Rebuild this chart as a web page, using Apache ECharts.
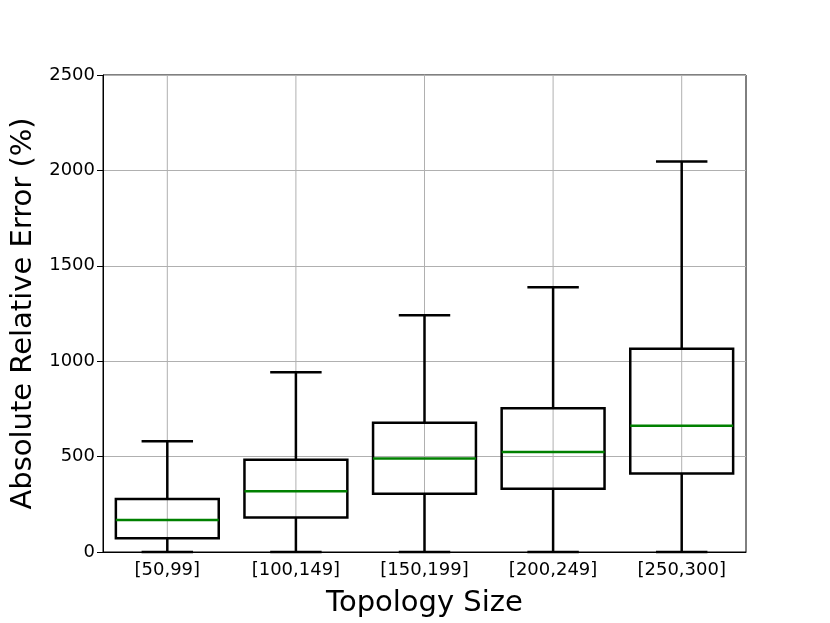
<!DOCTYPE html>
<html>
<head>
<meta charset="utf-8">
<script src="https://cdn.jsdelivr.net/npm/echarts@6/dist/echarts.min.js"></script>
<style>
  html, body { margin: 0; padding: 0; background: #fff; }
  #main { width: 830px; height: 623px; }
</style>
</head>
<body>
<div id="main"></div>
<script>
// box statistics, one entry per topology size bucket
const categories = ['[50,99]', '[100,149]', '[150,199]', '[200,249]', '[250,300]'];
const lowWhisker = [0, 0, 0, 0, 0];
const q1 = [72, 181, 305, 331, 412];
const median = [168, 318, 490, 524, 662];
const q3 = [278, 483, 678, 753, 1065];
const highWhisker = [580, 942, 1241, 1388, 2046];
const yTicks = [0, 500, 1000, 1500, 2000, 2500];

const font = 'DejaVu Sans';
const yMax = yTicks[yTicks.length - 1];

function renderItem(params, api) {
  const idx = api.value(0);
  const band = api.size([1, 0])[0];
  const boxHalf = band * 0.4;
  const capHalf = band * 0.2;
  const pt = k => api.coord([idx, api.value(k)]);
  const lo = pt(1), b1 = pt(2), md = pt(3), b3 = pt(4), hi = pt(5);
  const x = lo[0];
  const top = api.coord([idx, yMax]);
  const black = { stroke: '#000', lineWidth: 2.5, fill: null };
  const line = (x1, y1, x2, y2, style) => ({
    type: 'line', shape: { x1, y1, x2, y2 }, style
  });
  return {
    type: 'group',
    children: [
      // vertical grid line at the category centre (matplotlib style)
      line(x, top[1], x, lo[1], { stroke: '#b0b0b0', lineWidth: 1 }),
      line(x, b1[1], x, lo[1], black),
      line(x, b3[1], x, hi[1], black),
      line(x - capHalf, lo[1], x + capHalf, lo[1], black),
      line(x - capHalf, hi[1], x + capHalf, hi[1], black),
      {
        type: 'rect',
        shape: { x: x - boxHalf, y: b3[1], width: boxHalf * 2, height: b1[1] - b3[1] },
        style: black
      },
      line(x - boxHalf, md[1], x + boxHalf, md[1], { stroke: '#008000', lineWidth: 2.5 })
    ]
  };
}

const chart = echarts.init(document.getElementById('main'));
chart.setOption({
  animation: false,
  backgroundColor: '#fff',
  textStyle: { fontFamily: font },
  grid: {
    left: 103, right: 84, top: 75, bottom: 68,
    show: true, borderColor: '#000', borderWidth: 1
  },
  xAxis: {
    type: 'category',
    data: categories,
    name: 'Topology Size',
    nameLocation: 'middle',
    nameGap: 37,
    nameTextStyle: { fontSize: 29, color: '#000', fontFamily: font },
    axisLine: { lineStyle: { color: '#000', width: 1 } },
    axisTick: { alignWithLabel: true, length: 6, lineStyle: { color: '#000' } },
    axisLabel: { fontSize: 18, color: '#000', margin: 9, fontFamily: font },
    splitLine: { show: false }
  },
  yAxis: {
    type: 'value',
    min: yTicks[0],
    max: yMax,
    interval: yTicks[1] - yTicks[0],
    name: 'Absolute Relative Error (%)',
    nameLocation: 'middle',
    nameGap: 64,
    nameTextStyle: { fontSize: 29, color: '#000', fontFamily: font },
    axisLine: { show: true, lineStyle: { color: '#000', width: 1 } },
    axisTick: { show: true, length: 6, lineStyle: { color: '#000' } },
    axisLabel: { fontSize: 18, color: '#000', margin: 8, fontFamily: font, formatter: v => String(v) },
    splitLine: { show: true, lineStyle: { color: '#b0b0b0', width: 1 } }
  },
  series: [{
    type: 'custom',
    renderItem,
    encode: { x: 0, y: [1, 2, 3, 4, 5] },
    data: categories.map((c, i) => [i, lowWhisker[i], q1[i], median[i], q3[i], highWhisker[i]])
  }]
});
</script>
</body>
</html>
